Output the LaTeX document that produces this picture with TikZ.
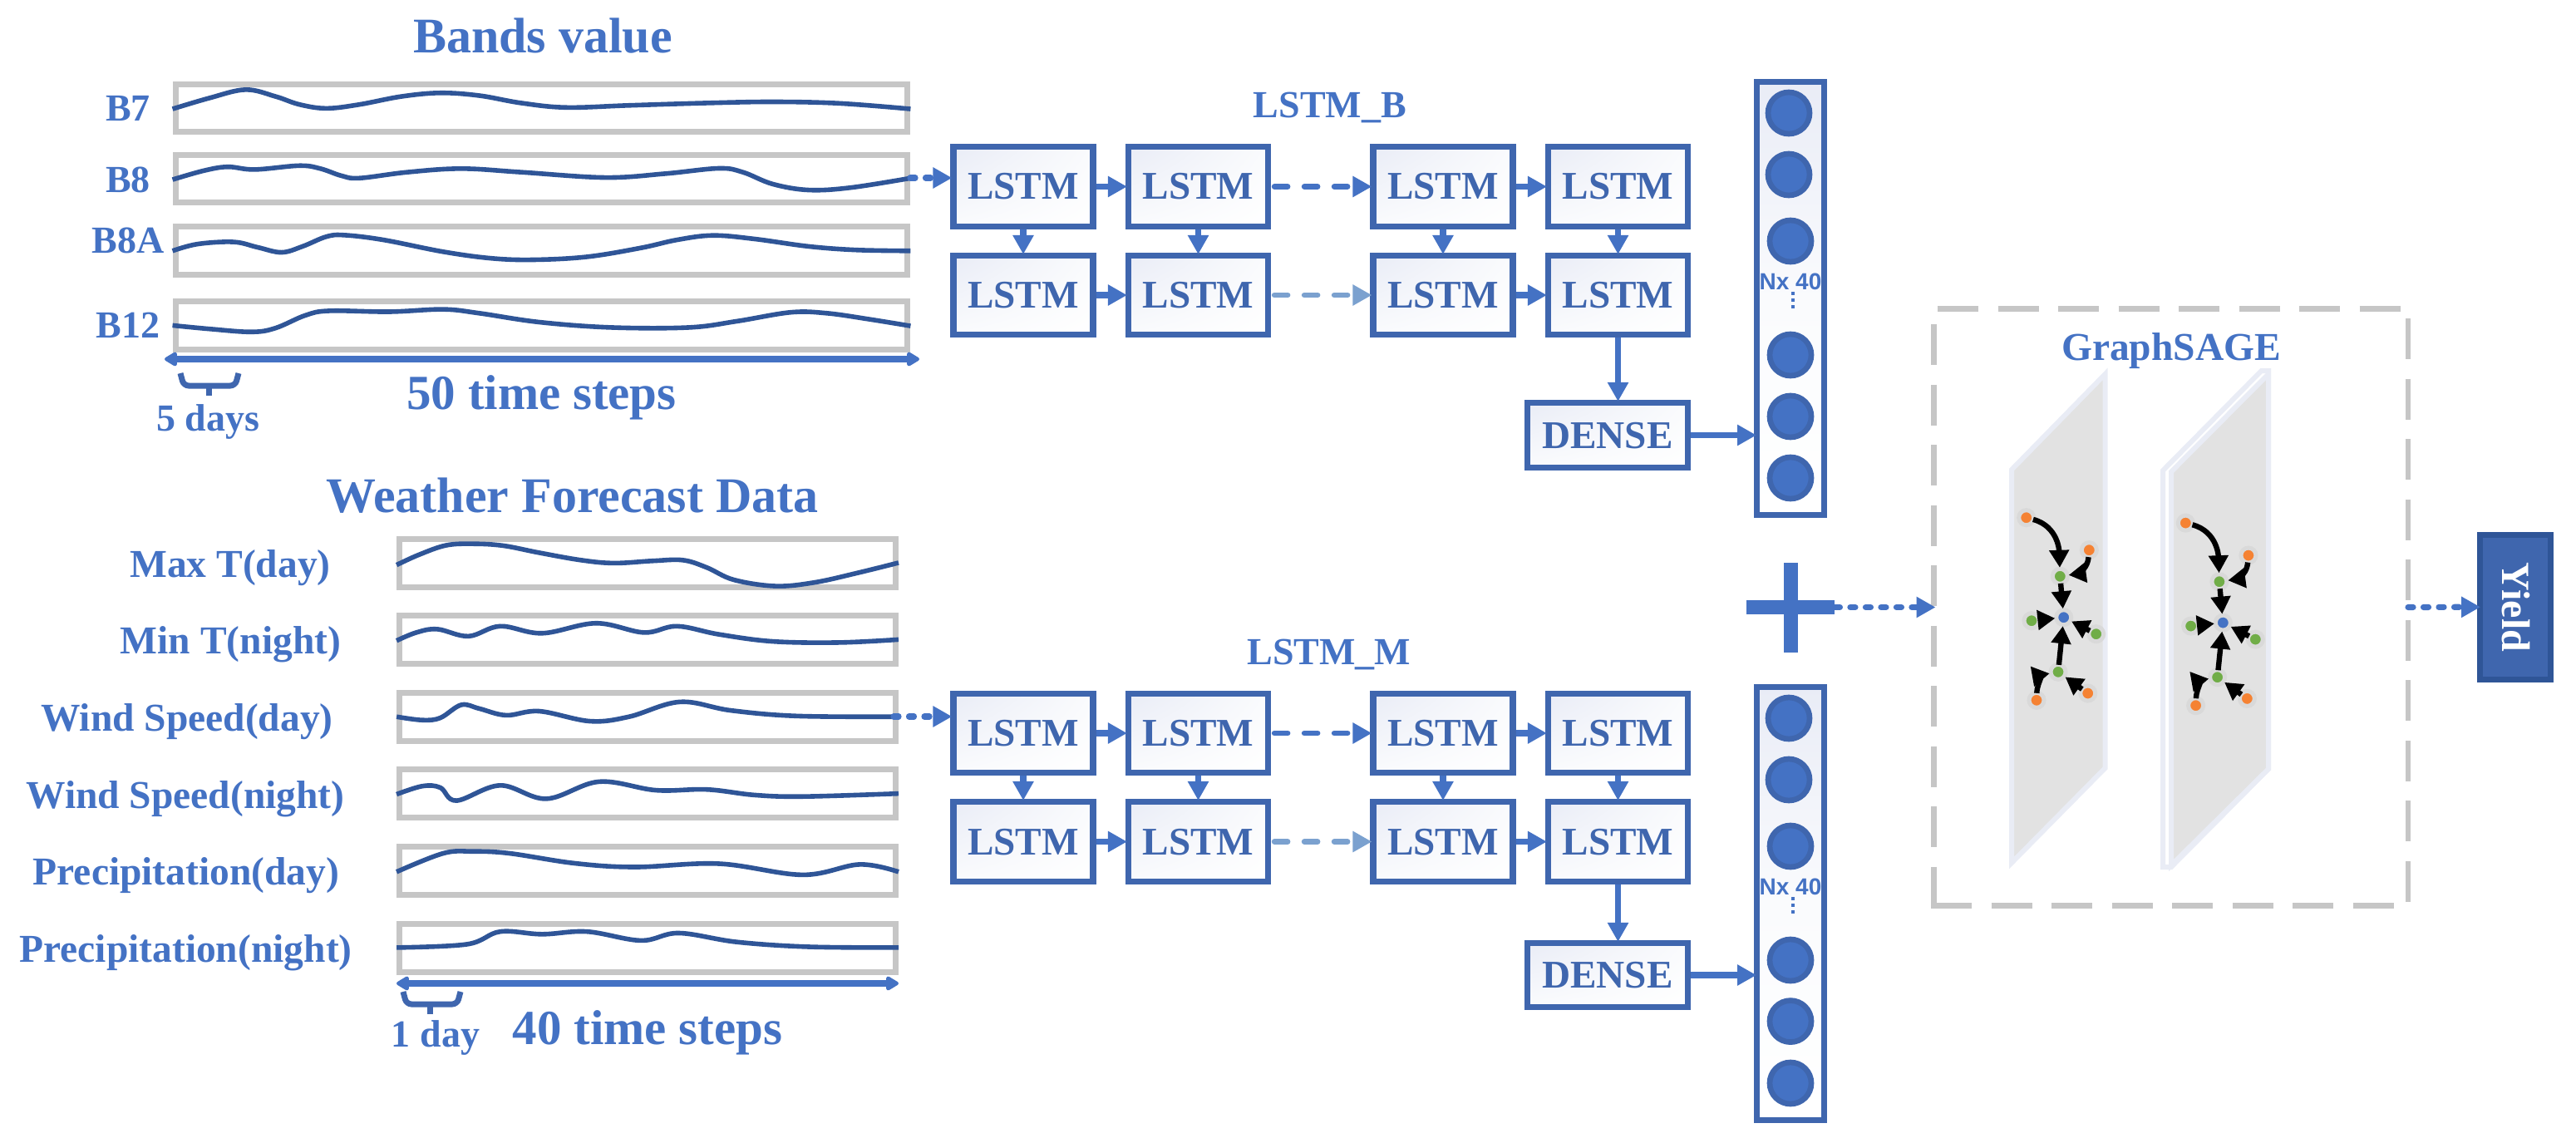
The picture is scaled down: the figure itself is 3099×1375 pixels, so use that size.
\documentclass[tikz,border=0pt]{standalone}
\usepackage{fontspec}
\setmainfont{Liberation Serif}
\newfontfamily\nxfont{Liberation Sans}
\usetikzlibrary{arrows.meta,calc,shadings}
\definecolor{tblue}{HTML}{4472C4}
\definecolor{boxblue}{HTML}{3F66AE}
\definecolor{curveblue}{HTML}{2F5597}
\definecolor{framegray}{HTML}{C6C6C6}
\definecolor{lightflow}{HTML}{7BA1CF}
\definecolor{lavtop}{HTML}{E9ECF6}
\definecolor{lavmid}{HTML}{FAFBFD}
\definecolor{planeedge}{HTML}{E9ECF5}
\definecolor{planefill}{HTML}{E2E2E2}
\definecolor{halo}{HTML}{D9D9D9}
\definecolor{gorange}{HTML}{F58233}
\definecolor{ggreen}{HTML}{70AD47}
\tikzset{
  lab/.style={anchor=base,inner sep=0pt,text=tblue,font=\bfseries\fontsize{23.75pt}{28pt}\selectfont},
  biglab/.style={lab,font=\bfseries\fontsize{30pt}{36pt}\selectfont},
  smalllab/.style={lab,font=\bfseries\fontsize{23pt}{28pt}\selectfont},
  nxlab/.style={lab,font=\nxfont\bfseries\fontsize{14pt}{16pt}\selectfont},
  framebox/.style={draw=framegray,line width=3.5pt,inner sep=0pt,fill=white},
  bandbox/.style={framebox,minimum width=440pt,minimum height=28.75pt},
  wxbox/.style={framebox,minimum width=298.5pt,minimum height=29pt},
  curve/.style={curveblue,line width=2.8pt},
  nnbox/.style={draw=boxblue,line width=3.6pt,inner sep=0pt,
     upper left=lavtop,upper right=lavmid,lower left=lavmid,lower right=white,
     text=boxblue,text height=15.5pt,text depth=0pt,
     font=\bfseries\fontsize{23.6pt}{28pt}\selectfont},
  lstmbox/.style={nnbox,minimum width=84pt},
  densebox/.style={nnbox,minimum width=96.5pt},
  vecbox/.style={draw=boxblue,line width=3.5pt,inner sep=0pt,minimum width=40.5pt,
     top color=lavtop,bottom color=white,middle color=lavmid},
  neuron/.style={circle,draw=boxblue,fill=tblue,line width=3.35pt,inner sep=0pt,minimum size=25pt},
  flow/.style={tblue,line width=3.6pt,shorten >=-1pt,-{Triangle[length=11.5pt,width=12pt]}},
  dashflow/.style={flow,line width=3.3pt,line cap=round,dash pattern=on 8pt off 10pt,dash phase=-2pt},
  dotflow/.style={flow,line width=3.6pt,line cap=round,dash pattern=on 3pt off 6.25pt},
  spanarrow/.style={tblue,line width=3.6pt,
     {Triangle[length=8.5pt,width=9.5pt,round]}-{Triangle[length=8.5pt,width=9.5pt,round]}},
  bracket/.style={boxblue,line width=3.5pt,rounded corners=3pt},
  sagedash/.style={framegray,line width=3.25pt,dash pattern=on 24.5pt off 11.75pt},
  gnode/.style={circle,draw=halo,line width=2.5pt,inner sep=0pt,minimum size=9pt},
  gor/.style={gnode,fill=gorange},
  ggr/.style={gnode,fill=ggreen},
  gbl/.style={gnode,fill=tblue},
  garr/.style={black,line width=3.2pt,shorten <=-1.5pt,shorten >=-0.5pt,-{Triangle[length=10.5pt,width=11.5pt]}},
  plane/.style={draw=planeedge,fill=planefill,line width=3pt,line join=miter},
}
\newcommand\sagegraph{%
  \node[gor] (o1) at (2437.7,622.7) {};
  \node[gor] (o2) at (2513.3,661.7) {};
  \node[ggr] (g1) at (2478.3,693.3) {};
  \node[gbl] (bc) at (2482.7,742.7) {};
  \node[ggr] (g2) at (2444,746.7) {};
  \node[ggr] (g3) at (2521.7,762.7) {};
  \node[ggr] (g4) at (2476,808.3) {};
  \node[gor] (o3) at (2450,842.3) {};
  \node[gor] (o4) at (2511.7,834) {};
  \draw[garr] (o1) to[out=-15,in=92] (g1);
  \draw[garr] (o2) to[out=-95,in=8] (g1);
  \draw[garr] (g1) -- (bc);
  \draw[garr] (g2) -- (bc);
  \draw[garr] (g3) -- (bc);
  \draw[garr] (g4) -- (bc);
  \draw[garr] (o3) to[out=88,in=190] (g4);
  \draw[garr] (o4) -- (g4);
}
\begin{document}
\begin{tikzpicture}[x=0.5pt,y=-0.5pt]
\useasboundingbox (0,0) rectangle (3099,1375);

% ---------- Bands
\node[biglab] (tbands) at (653,64) {Bands value};
\node[bandbox] (bxa) at (651,130.25) {};
\node[bandbox] (bxb) at (651,215.25) {};
\node[bandbox] (bxc) at (651,301.25) {};
\node[bandbox] (bxd) at (651,391.5) {};
\node[smalllab] (la) at (154,146) {B7};
\node[smalllab] (lb) at (154,232) {B8};
\node[smalllab] (lc) at (154,305) {B8A};
\node[smalllab] (ld) at (154,406) {B12};
\begin{scope}[x=0.36033pt,y=-0.17857pt]
\draw[curve] plot[smooth,tension=0.6] coordinates {(288,367)(350,330)(410,302)(460,325)(500,352)(545,365)(600,352)(670,325)(735,313)(800,322)(870,347)(945,362)(1050,355)(1180,347)(1290,343)(1400,348)(1520,367)};
\draw[curve] plot[smooth,tension=0.6] coordinates {(288,605)(340,575)(380,562)(425,571)(500,558)(535,568)(570,592)(600,600)(680,580)(770,568)(870,580)(1010,598)(1110,585)(1200,567)(1240,580)(1290,620)(1350,640)(1420,632)(1520,600)};
\draw[curve] plot[smooth,tension=0.6] coordinates {(288,845)(330,822)(390,815)(430,833)(470,850)(505,830)(545,797)(575,792)(640,808)(740,848)(820,870)(890,875)(980,865)(1070,835)(1130,808)(1190,793)(1260,805)(1350,830)(1430,842)(1520,845)};
\draw[curve] plot[smooth,tension=0.6] coordinates {(288,1096)(350,1108)(420,1118)(460,1105)(510,1062)(550,1047)(650,1050)(740,1042)(800,1055)(900,1085)(1020,1103)(1150,1103)(1230,1082)(1320,1052)(1380,1055)(1450,1075)(1520,1098)};
\end{scope}
\coordinate (spanAl) at (198,432);
\coordinate (spanAr) at (1106,432);
\draw[spanarrow] (spanAl) -- (spanAr);
\draw[bracket] (217,449) -- (221,464) -- (283,464) -- (287,449);
\draw[bracket,rounded corners=0pt] (251,464) -- (251,476);
\node[smalllab] (days5) at (250,518) {5 days};
\node[biglab,font=\bfseries\fontsize{29.5pt}{36pt}\selectfont] (steps50) at (651.5,492) {50 time steps};

% ---------- Weather
\node[biglab] (tweather) at (688.5,616) {Weather Forecast Data};
\node[wxbox] (wa) at (779,677.25) {};
\node[wxbox] (wb) at (779,769.5) {};
\node[wxbox] (wc) at (779,862) {};
\node[wxbox] (wd) at (779,954) {};
\node[wxbox] (we) at (779,1047.5) {};
\node[wxbox] (wf) at (779,1140.75) {};
\node[lab] (lwa) at (277,694) {Max T(day)};
\node[lab] (lwb) at (277.5,786) {Min T(night)};
\node[lab] (lwc) at (225,879) {Wind Speed(day)};
\node[lab] (lwd) at (223,972) {Wind Speed(night)};
\node[lab] (lwe) at (224,1064) {Precipitation(day)};
\node[lab] (lwf) at (223.5,1157) {Precipitation(night)};
\begin{scope}[x=0.36033pt,y=-0.22321pt,yshift=-280pt]
\draw[curve] plot[smooth,tension=0.6] coordinates {(662,268)(700,240)(745,215)(790,211)(840,216)(900,235)(970,255)(1025,263)(1090,257)(1140,255)(1180,275)(1225,308)(1295,325)(1360,315)(1430,290)(1500,262)};
\draw[curve] plot[smooth,tension=0.6] coordinates {(662,472)(695,450)(730,441)(782,460)(835,433)(905,452)(995,425)(1075,450)(1130,433)(1200,455)(1290,474)(1400,477)(1500,469)};
\draw[curve] plot[smooth,tension=0.6] coordinates {(662,677)(705,686)(735,680)(770,645)(800,655)(845,673)(900,662)(985,689)(1050,677)(1135,637)(1220,660)(1330,675)(1500,677)};
\draw[curve] plot[smooth,tension=0.6] coordinates {(662,886)(705,864)(735,868)(762,903)(835,862)(912,898)(1000,852)(1095,875)(1180,873)(1260,888)(1340,892)(1500,884)};
\draw[curve] plot[smooth,tension=0.6] coordinates {(662,1095)(740,1045)(790,1040)(850,1045)(960,1072)(1060,1082)(1200,1073)(1340,1103)(1435,1075)(1500,1095)};
\draw[curve] plot[smooth,tension=0.6] coordinates {(662,1299)(780,1290)(835,1256)(905,1263)(980,1256)(1070,1280)(1133,1260)(1230,1284)(1350,1297)(1500,1299)};
\end{scope}
\coordinate (spanBl) at (477,1183);
\coordinate (spanBr) at (1081,1183);
\draw[spanarrow] (spanBl) -- (spanBr);
\draw[bracket] (485,1193) -- (489,1208) -- (550,1208) -- (554,1193);
\draw[bracket,rounded corners=0pt] (517.5,1208) -- (517.5,1220);
\node[smalllab] (day1) at (524,1259) {1 day};
\node[biglab,font=\bfseries\fontsize{29.5pt}{36pt}\selectfont] (steps40) at (779,1256) {40 time steps};

% ---------- LSTM grids
\node[smalllab] (tlb) at (1600,142) {LSTM\_B};
\node[smalllab] (tlm) at (1599,799) {LSTM\_M};
\foreach \c/\x in {1/1231,2/1441.5,3/1736,4/1946.5}{
  \node[lstmbox,minimum height=48pt] (Ba\c) at (\x,224.5) {LSTM};
  \node[lstmbox,minimum height=47.5pt] (Bb\c) at (\x,355) {LSTM};
  \node[lstmbox,minimum height=47.25pt] (Ma\c) at (\x,882) {LSTM};
  \node[lstmbox,minimum height=48pt] (Mb\c) at (\x,1012.5) {LSTM};
}
\node[densebox,minimum height=39pt] (Bd) at (1934,523.5) {DENSE};
\node[densebox,minimum height=38.5pt] (Md) at (1934,1173) {DENSE};
\foreach \g in {B,M}{
  \foreach \r in {a,b}{
    \draw[flow] (\g\r1.east) -- (\g\r2.west);
    \draw[flow] (\g\r3.east) -- (\g\r4.west);
  }
  \draw[dashflow] (\g a2.east) -- (\g a3.west);
  \draw[dashflow,lightflow] (\g b2.east) -- (\g b3.west);
  \foreach \c in {1,2,3,4}{
    \draw[flow] (\g a\c.south) -- (\g b\c.north);
  }
  \draw[flow] (\g b4.south) -- (\g b4.south |- \g d.north);
}

% ---------- Output vectors
\node[vecbox,minimum height=260pt] (va) at (2154,359) {};
\node[vecbox,minimum height=260.5pt] (vb) at (2154,1087) {};
\foreach \n/\x/\y in {1/2152/136,2/2152/210,3/2154/290,4/2154/427,5/2154/501,6/2154/575}{
  \node[neuron] (va\n) at (\x,\y) {};
}
\foreach \n/\x/\y in {1/2152/864,2/2152/938,3/2154/1018,4/2154/1155,5/2154/1228.6,6/2154/1303}{
  \node[neuron] (vb\n) at (\x,\y) {};
}
\node[nxlab] (nxa) at (2154,348) {Nx 40};
\node[nxlab] (nxb) at (2154,1076) {Nx 40};
\foreach \n/\y in {1/353,2/361,3/369}{
  \node[fill=tblue,inner sep=0pt,minimum size=1.7pt] (dta\n) at (2157,\y) {};
}
\foreach \n/\y in {1/1081,2/1089,3/1097}{
  \node[fill=tblue,inner sep=0pt,minimum size=1.7pt] (dtb\n) at (2157,\y) {};
}
\draw[flow,shorten >=-1.5pt] (Bd.east) -- (va.west |- Bd.east);
\draw[flow,shorten >=-1.5pt] (Md.east) -- (vb.west |- Md.east);

% ---------- Input links
\coordinate (bend) at (1095,214);
\coordinate (wend) at (1075,862);
\draw[dotflow] (bend) -- (Ba1.west |- bend);
\draw[dotflow] (wend) -- (Ma1.west |- wend);

% ---------- Plus
\node[fill=tblue,inner sep=0pt,minimum width=53pt,minimum height=8.5pt] (plush) at (2154,730.5) {};
\node[fill=tblue,inner sep=0pt,minimum width=8.5pt,minimum height=54pt] (plusv) at (2154.5,731) {};

% ---------- GraphSAGE
\draw[sagedash] (2331,371.6) -- (2897,371.6);
\draw[sagedash] (2326.5,390) -- (2326.5,1092);
\draw[sagedash] (2323,1089.5) -- (2890,1089.5);
\draw[sagedash] (2897,383) -- (2897,1090);
\coordinate (gsin) at (2326.5,730.5);
\coordinate (gsout) at (2897,730.5);
\node[lab] (tgs) at (2612,433) {GraphSAGE};
\draw[plane] (2420,565) -- (2532.5,450) -- (2532.5,924) -- (2420,1038) -- cycle;
\draw[plane,fill=white] (2602,566) -- (2720.5,446) -- (2729,446) -- (2729,925) -- (2612,1043) -- (2602,1043) -- cycle;
\draw[plane] (2612,567.5) -- (2729,450) -- (2729,925) -- (2612,1041) -- cycle;
\begin{scope}[name prefix=pa-]
\sagegraph
\end{scope}
\begin{scope}[shift={(191.6,6.4)},name prefix=pb-]
\sagegraph
\end{scope}
\draw[dotflow] (plush.east) -- (gsin);

% ---------- Yield
\node[draw=curveblue,fill=boxblue,line width=3.5pt,inner sep=0pt,minimum width=42.5pt,minimum height=86.75pt] (yield) at (3026,730.25) {};
\node[rotate=-90,text=white,inner sep=0pt,text height=15.5pt,text depth=0pt,font=\bfseries\fontsize{24pt}{28pt}\selectfont] (yieldt) at (yield.center) {Yield};
\draw[dotflow,shorten >=-2pt] (gsout) -- (yield.west);
\end{tikzpicture}
\end{document}
